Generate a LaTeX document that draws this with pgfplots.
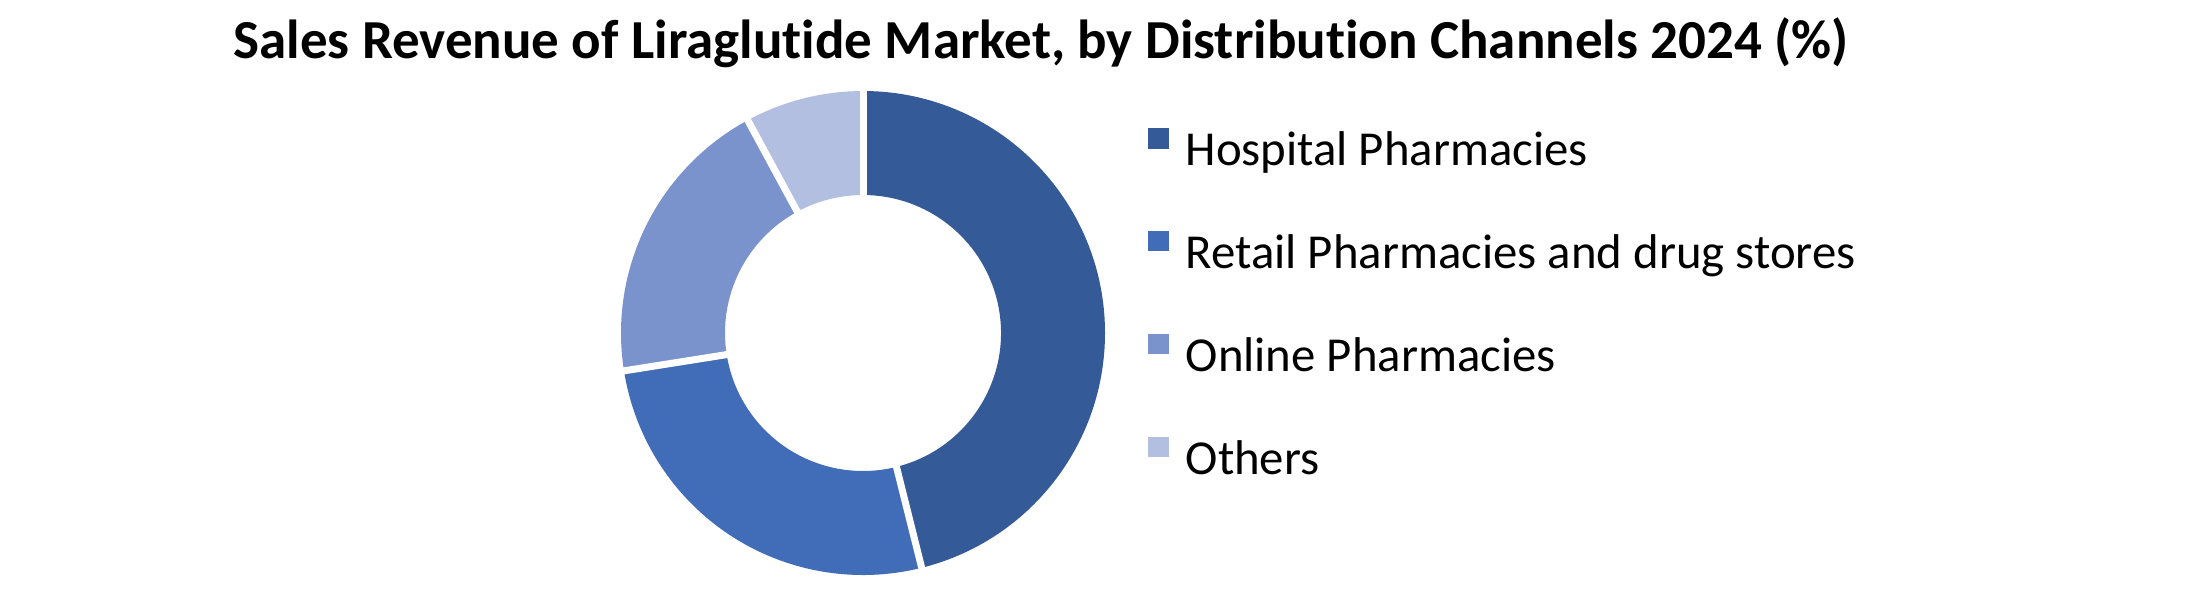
\documentclass[border=0pt]{standalone}
\usepackage{fontspec}
\setmainfont{Carlito}[Ligatures=NoCommon]
\usepackage{pgfplots}
\usepackage{pgfplotstable}
\pgfplotsset{compat=1.18}

\definecolor{cA}{HTML}{345A98}
\definecolor{cB}{HTML}{416CB8}
\definecolor{cC}{HTML}{7B93CC}
\definecolor{cD}{HTML}{B3BFE1}

\pgfplotstableread{
channel share
Hospital 46.1
Retail 26.4
Online 19.6
Others 7.9
}\sharetable

\pgfplotstablegetelem{0}{share}\of\sharetable\let\sA\pgfplotsretval
\pgfplotstablegetelem{1}{share}\of\sharetable\let\sB\pgfplotsretval
\pgfplotstablegetelem{2}{share}\of\sharetable\let\sC\pgfplotsretval
\pgfplotstablegetelem{3}{share}\of\sharetable\let\sD\pgfplotsretval
\pgfmathsetmacro\aA{90}
\pgfmathsetmacro\aB{\aA-3.6*\sA}
\pgfmathsetmacro\aC{\aB-3.6*\sB}
\pgfmathsetmacro\aD{\aC-3.6*\sC}
\pgfmathsetmacro\aE{\aD-3.6*\sD}

\newcommand\rout{121pt}
\newcommand\rin{69pt}
\newcommand\sector[3]{%
  \fill[#3] ([shift={(#1:\rout)}]C) arc[start angle=#1, end angle=#2, radius=\rout]
    -- ([shift={(#2:\rin)}]C) arc[start angle=#2, end angle=#1, radius=\rin] -- cycle;}
\newcommand\gap[1]{\draw[white, line width=3.5pt] ([shift={(#1:60pt)}]C) -- ([shift={(#1:130pt)}]C);}

\begin{document}
\begin{tikzpicture}
\begin{axis}[
  width=1103.5pt, height=291.5pt, scale only axis,
  xmin=0, xmax=2207, ymin=0, ymax=583,
  hide axis, clip=false,
  legend style={at={(axis cs:1148,455.5)}, anchor=north west, draw=none, fill=none,
    inner sep=0pt, font=\fontsize{24.4}{29}\selectfont, row sep=28.55pt,
    nodes={inner sep=0pt, text height=17pt, text depth=4pt},
    /tikz/every odd column/.append style={column sep=8.5pt}},
  legend cell align=left,
]
\addlegendimage{legend image code/.code={\fill[cA] (0pt,2.4pt) rectangle (9.75pt,12.2pt);}}
\addlegendentry{Hospital Pharmacies}
\addlegendimage{legend image code/.code={\fill[cB] (0pt,2.4pt) rectangle (9.75pt,12.2pt);}}
\addlegendentry{Retail Pharmacies and drug stores}
\addlegendimage{legend image code/.code={\fill[cC] (0pt,2.4pt) rectangle (9.75pt,12.2pt);}}
\addlegendentry{Online Pharmacies}
\addlegendimage{legend image code/.code={\fill[cD] (0pt,2.4pt) rectangle (9.75pt,12.2pt);}}
\addlegendentry{Others}

\path (axis cs:0,0) rectangle (axis cs:2207,583);
\coordinate (C) at (axis cs:863,250);
\sector{\aA}{\aB}{cA}
\sector{\aB}{\aC}{cB}
\sector{\aC}{\aD}{cC}
\sector{\aD}{\aE}{cD}
\gap{\aA}\gap{\aB}\gap{\aC}\gap{\aD}

\node[anchor=base, font=\fontsize{27.5}{33}\selectfont\bfseries] at (axis cs:1041,525)
  {Sales Revenue of Liraglutide Market, by Distribution Channels 2024 (\%)};
\end{axis}
\end{tikzpicture}
\end{document}
